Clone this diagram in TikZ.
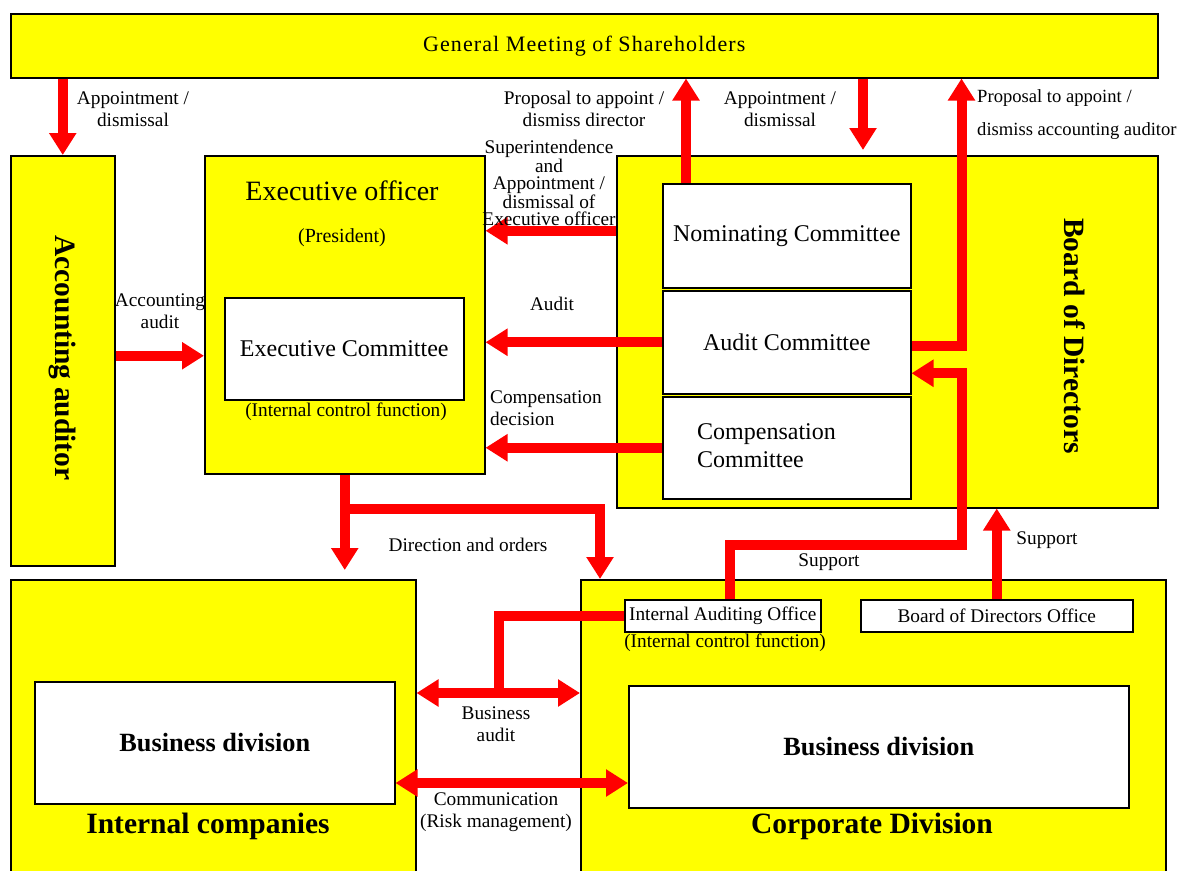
\documentclass[tikz,border=0pt]{standalone}
\usepackage{fontspec}
\setmainfont{Liberation Serif}
\usepackage{tikz}
\usetikzlibrary{arrows.meta}
\definecolor{boxyellow}{RGB}{255,255,0}
\definecolor{arrowred}{RGB}{255,0,0}

\begin{document}
\begin{tikzpicture}[x=1pt, y=-1pt,
    box/.style={draw=black, line width=1.5pt, fill=boxyellow, inner sep=0pt, anchor=north west},
    whitebox/.style={box, fill=white},
    lbl/.style={inner sep=0pt, align=center, font=\fontsize{19.3}{22}\selectfont},
    midtext/.style={font=\fontsize{24}{28}\selectfont},
    bigbold/.style={inner sep=0pt, font=\fontsize{29.5}{34}\selectfont\bfseries},
    redline/.style={draw=arrowred, line width=10pt, line join=miter},
    redarrow/.style={redline, -{Triangle[length=22pt,width=26pt]}},
    redboth/.style={redline, {Triangle[length=22pt,width=26pt]}-{Triangle[length=22pt,width=26pt]}}]
    \useasboundingbox (0,0) rectangle (1182,870);

    % boxes
    \node[box, minimum width=1147pt, minimum height=64pt,
          font=\addfontfeatures{LetterSpace=5}\fontsize{22}{26}\selectfont] (gm) at (10,13) {General Meeting of Shareholders};
    \node[box, minimum width=104pt, minimum height=410pt] (acc) at (10,155) {};
    \node[box, minimum width=280pt, minimum height=318pt] (exec) at (204,155) {};
    \node[box, minimum width=541pt, minimum height=352pt] (board) at (616,155) {};
    \node[box, minimum width=405pt, minimum height=293pt] (intco) at (10,579) {};
    \node[box, minimum width=585pt, minimum height=293pt] (corp) at (580,579) {};

    % inner boxes
    \node[whitebox, midtext, minimum width=239pt, minimum height=102pt] (excom) at (224,297) {Executive Committee};
    \node[whitebox, midtext, minimum width=248pt, minimum height=104pt] (nom) at (662,183) {Nominating Committee};
    \node[whitebox, midtext, minimum width=248pt, minimum height=103pt] (aud) at (662,290) {Audit Committee};
    \node[whitebox, minimum width=248pt, minimum height=102pt] (comp) at (662,396) {};
    \node[whitebox, lbl, minimum width=196pt, minimum height=32pt] (iao) at (624,599) {Internal Auditing Office};
    \node[whitebox, lbl, minimum width=272pt, minimum height=32pt] (bdo) at (860,599) {Board of Directors Office};
    \node[whitebox, minimum width=360pt, minimum height=122pt,
          font=\fontsize{26.3}{30}\selectfont\bfseries] (busL) at (34,681) {Business division};
    \node[whitebox, minimum width=500pt, minimum height=122pt,
          font=\fontsize{26.3}{30}\selectfont\bfseries] (busR) at (628,685) {Business division};

    % titles
    \node[inner sep=0pt, font=\fontsize{28}{32}\selectfont] (exectitle) at (342,191) {Executive officer};
    \node[lbl, font=\fontsize{20}{24}\selectfont] (president) at (342,238) {(President)};
    \node[lbl] (icf1) at (346,412) {(Internal control function)};
    \node[inner sep=0pt, align=left, anchor=west, font=\fontsize{24}{28}\selectfont] (comptext) at (697,446) {Compensation\\Committee};
    \node[bigbold, rotate=-90] (acctitle) at (62,358) {Accounting auditor};
    \node[bigbold, rotate=-90] (boardtitle) at (1075,336) {Board of Directors};
    \node[bigbold] (intcotitle) at (208,826) {Internal companies};
    \node[bigbold] (corptitle) at (872,826) {Corporate Division};
    \node[lbl] (icf2) at (725,643) {(Internal control function)};

    % bends
    \coordinate (supbend) at (962,545);
    \coordinate (dirbend) at (342,509);
    \coordinate (auditbend) at (499,693);
    \coordinate (commline) at (500,783);

    % arrows
    \draw[redarrow] (gm.south -| acc.north) -- (acc.north);
    \draw[redarrow] ([xshift=24pt]nom.north west) -- ([xshift=24pt]nom.north west |- gm.south);
    \draw[redarrow] ([xshift=247pt]board.north west |- gm.south) -- ([xshift=247pt,yshift=5pt]board.north west);
    \draw[redarrow] ([yshift=-4pt]aud.east) -| ([xshift=50pt]aud.east |- gm.south);
    \draw[redarrow] ([yshift=5pt]nom.west -| board.west) -- ([yshift=5pt]nom.west -| exec.east);
    \draw[redarrow] (aud.west) -- (aud.west -| exec.east);
    \draw[redarrow] (comp.west) -- (comp.west -| exec.east);
    \draw[redarrow] ([yshift=-7pt]excom.west -| acc.east) -- ([yshift=-7pt]excom.west -| exec.west);
    \draw[redarrow] (exec.south) -- ([yshift=9pt]exec.south |- intco.north);
    \draw[redarrow] (dirbend) -| ([xshift=20pt]corp.north west);
    \draw[redarrow] ([xshift=7pt]iao.north) |- (supbend) |- ([yshift=-31pt]aud.east);
    \draw[redarrow] (bdo.north) -- (bdo.north |- board.south);
    \draw[redline] (iao.west) -| (auditbend);
    \draw[redboth] (auditbend -| intco.east) -- (auditbend -| corp.west);
    \draw[redboth] (commline -| busL.east) -- (commline -| busR.west);

    % labels
    \node[lbl] (lappoint1) at (133,109) {Appointment /\\dismissal};
    \node[lbl] (lpropdir) at (584,109) {Proposal to appoint /\\dismiss director};
    \node[lbl] (lappoint2) at (780,109) {Appointment /\\dismissal};
    \node[lbl, align=left, anchor=west, font=\fontsize{18.6}{22}\selectfont] (lpropacc) at (977,115) {Proposal to appoint /\\[11pt]dismiss accounting auditor};
    \node[lbl, font=\fontsize{19.3}{17.5}\selectfont] (lsuper) at (549,183) {Superintendence\\and\\Appointment /\\dismissal of\\Executive officer};
    \node[lbl] (laudit) at (552,304) {Audit};
    \node[lbl, align=left, anchor=west] (lcomp) at (490,408) {Compensation\\decision};
    \node[lbl] (laccaudit) at (160,311) {Accounting\\audit};
    \node[lbl] (ldirection) at (468,545) {Direction and orders};
    \node[lbl] (lsupport1) at (829,562) {Support};
    \node[lbl] (lsupport2) at (1047,540) {Support};
    \node[lbl] (lbusaudit) at (496,724) {Business\\audit};
    \node[lbl] (lcomm) at (496,812) {Communication\\(Risk management)};
\end{tikzpicture}
\end{document}
